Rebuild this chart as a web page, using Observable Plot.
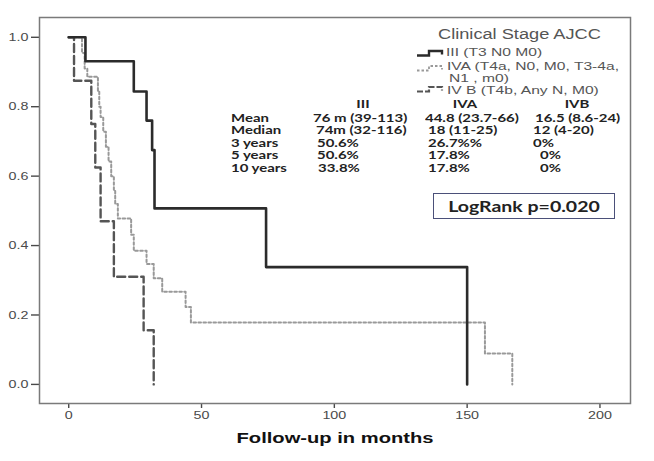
<!DOCTYPE html>
<html><head><meta charset="utf-8">
<script src="https://cdn.jsdelivr.net/npm/d3@7"></script>
<script src="https://cdn.jsdelivr.net/npm/@observablehq/plot@0.6"></script>
<style>
body{margin:0;background:#fff;}
#wrap{position:relative;width:654px;height:461px;overflow:hidden;background:#fff;}
.t{position:absolute;white-space:nowrap;line-height:1;transform-origin:0 0;}
</style></head><body><div id="wrap"></div>
<script>
// ---- data ----
const legendTitle = "Clinical Stage AJCC";
const stageLabels = ["III (T3 N0 M0)", "IVA (T4a, N0, M0, T3-4a,", "N1 , m0)", "IV B (T4b, Any N, M0)"];
const timeIII = [0, 6.3, 24.5, 29.3, 31.4, 32.3, 74.3, 150];
const survIII = [1, 0.931, 0.844, 0.76, 0.675, 0.507, 0.338, 0];
const timeIVA = [0, 5, 6, 7, 11, 11.5, 12, 13, 14, 15, 16, 17, 17.5, 18.5, 23.5, 24.5, 29.3, 32, 35.2, 44, 46, 156.7, 167];
const survIVA = [1, 0.955, 0.91, 0.886, 0.843, 0.80, 0.77, 0.728, 0.685, 0.642, 0.60, 0.557, 0.52, 0.478, 0.431, 0.385, 0.347, 0.306, 0.267, 0.223, 0.178, 0.089, 0];
const timeIVB = [0, 2, 8.5, 10, 12, 17, 28.2, 32];
const survIVB = [1, 0.875, 0.75, 0.625, 0.47, 0.31, 0.156, 0];
const xTicks = [0, 50, 100, 150, 200];
const yTicks = [0, 0.2, 0.4, 0.6, 0.8, 1.0];
const xTitle = "Follow-up in months";
const tableCols = ["III", "IVA", "IVB"];
const tableRows = ["Mean", "Median", "3 years", "5 years", "10 years"];
const valsIII = ["76 m (39-113)", "74m (32-116)", "50.6%", "50.6%", "33.8%"];
const valsIVA = ["44.8 (23.7-66)", "18 (11-25)", "26.7%%", "17.8%", "17.8%"];
const valsIVB = ["16.5 (8.6-24)", "12 (4-20)", "0%", "0%", "0%"];
const logRankText = "LogRank p=0.020";

const toRows = (ts, ss) => ts.map((t, i) => ({t, s: ss[i]}));
const dIII = toRows(timeIII, survIII), dIVA = toRows(timeIVA, survIVA), dIVB = toRows(timeIVB, survIVB);

const SX = 1.3; // horizontal stretch of the original picture's lettering
const wrap = document.getElementById("wrap");

const chart = Plot.plot({
  width: 654, height: 461,
  marginLeft: 39, marginTop: 17, marginRight: 24, marginBottom: 58,
  x: {domain: [-11, 211.5]},
  y: {domain: [-0.055, 1.057]},
  style: {fontFamily: "'Liberation Sans', Arial, sans-serif", background: "#fff", overflow: "visible"},
  marks: [
    Plot.axisY({ticks: yTicks, tickSize: 8, tickPadding: 3, tickFormat: d3.format(".1f"), fontSize: 11, color: "#4a4a4a", strokeWidth: 1.4, label: null}),
    Plot.axisX({ticks: xTicks, tickSize: 5, tickPadding: 3, tickFormat: d3.format("d"), fontSize: 11, color: "#4a4a4a", strokeWidth: 1.4, label: null}),
    Plot.line(dIVA, {x: "t", y: "s", curve: "step-after", stroke: "#999", strokeWidth: 2, strokeDasharray: "2.6,2.4"}),
    Plot.line(dIVB, {x: "t", y: "s", curve: "step-after", stroke: "#555", strokeWidth: 2.4, strokeDasharray: "8,4"}),
    Plot.line(dIII, {x: "t", y: "s", curve: "step-after", stroke: "#2b2b2b", strokeWidth: 2.6}),
    Plot.frame({stroke: "#7a7a7a", strokeWidth: 1.5}),
    Plot.text([xTitle], {frameAnchor: "bottom", dy: 35, fontWeight: "bold", fontSize: 15.5, fill: "#111", lineAnchor: "middle"})
  ]
});
wrap.appendChild(chart);

// stretch svg text horizontally about its anchor point
chart.querySelectorAll("text").forEach(t => {
  const r = t.getBoundingClientRect();
  const anchor = getComputedStyle(t).textAnchor;
  const ax = anchor === "end" ? r.right : anchor === "middle" ? (r.left + r.right) / 2 : r.left;
  const ctm = t.parentNode.getScreenCTM();
  const px = (ax - ctm.e) / ctm.a;
  const g = document.createElementNS("http://www.w3.org/2000/svg", "g");
  g.setAttribute("transform", `translate(${px},0) scale(${SX},1) translate(${-px},0)`);
  t.parentNode.insertBefore(g, t);
  g.appendChild(t);
});

// ---- overlay text (legend, table, log-rank) ----
function addText(str, x, yc, o = {}) {
  const size = o.size || 12;
  const sx = o.sx || SX;
  const d = document.createElement("div");
  d.className = "t";
  d.textContent = str;
  d.style.fontSize = size + "px";
  d.style.fontFamily = o.family || "'Liberation Sans', Arial, sans-serif";
  d.style.fontWeight = o.weight || "normal";
  d.style.color = o.color || "#222";
  d.style.left = x + "px";
  d.style.top = (yc - size / 2) + "px";
  d.style.transform = o.anchor === "middle" ? `scaleX(${sx}) translateX(-50%)` : `scaleX(${sx})`;
  wrap.appendChild(d);
}
function addGlyph(top, color, width, dash) {
  const s = document.createElementNS("http://www.w3.org/2000/svg", "svg");
  s.setAttribute("width", 32); s.setAttribute("height", 9);
  s.style.position = "absolute"; s.style.left = "415px"; s.style.top = top + "px";
  const p = document.createElementNS("http://www.w3.org/2000/svg", "polyline");
  p.setAttribute("points", "2,6.5 14,6.5 14,2 27,2 27,5.5");
  p.setAttribute("fill", "none"); p.setAttribute("stroke", color);
  p.setAttribute("stroke-width", width);
  if (dash) p.setAttribute("stroke-dasharray", dash);
  s.appendChild(p);
  wrap.appendChild(s);
}

const legFont = "'Liberation Sans', Arial, sans-serif";
addText(legendTitle, 438, 34, {size: 14, color: "#555", family: legFont});
addGlyph(48.5, "#2b2b2b", 2.4, null);
addText(stageLabels[0], 446, 53, {size: 11.4, sx: 1.37, color: "#555", family: legFont});
addGlyph(64, "#999", 1.8, "2.5,2");
addText(stageLabels[1], 447, 66.5, {size: 11.4, sx: 1.37, color: "#555", family: legFont});
addText(stageLabels[2], 449, 78.5, {size: 11.4, sx: 1.37, color: "#555", family: legFont});
addGlyph(84.5, "#555", 2.2, "6,2");
addText(stageLabels[3], 447, 90.3, {size: 11.4, sx: 1.37, color: "#555", family: legFont});

const tFont = "Lato, 'Open Sans', sans-serif";
const colX = [363, 465, 577];
tableCols.forEach((c, i) => addText(c, colX[i], 104, {size: 11.5, weight: "bold", family: tFont, anchor: "middle"}));
const rowY = [117.5, 130, 142.5, 155, 168];
const startIII = [313, 316, 316.5, 316.5, 318];
const startIVA = [425, 428, 428, 428, 428];
const startIVB = [535, 533, 533, 540, 540];
tableRows.forEach((r, i) => {
  addText(r, 231, rowY[i], {size: 11.5, weight: "bold", family: tFont});
  addText(valsIII[i], startIII[i], rowY[i], {size: 11.5, weight: "bold", family: tFont});
  addText(valsIVA[i], startIVA[i], rowY[i], {size: 11.5, weight: "bold", family: tFont});
  addText(valsIVB[i], startIVB[i], rowY[i], {size: 11.5, weight: "bold", family: tFont});
});

const box = document.createElement("div");
box.style.cssText = "position:absolute;left:433px;top:193px;width:182px;height:26px;box-sizing:border-box;border:1.6px solid #4b5079;";
wrap.appendChild(box);
addText(logRankText, 524, 206, {size: 15, weight: "bold", family: tFont, anchor: "middle"});
</script></body></html>
